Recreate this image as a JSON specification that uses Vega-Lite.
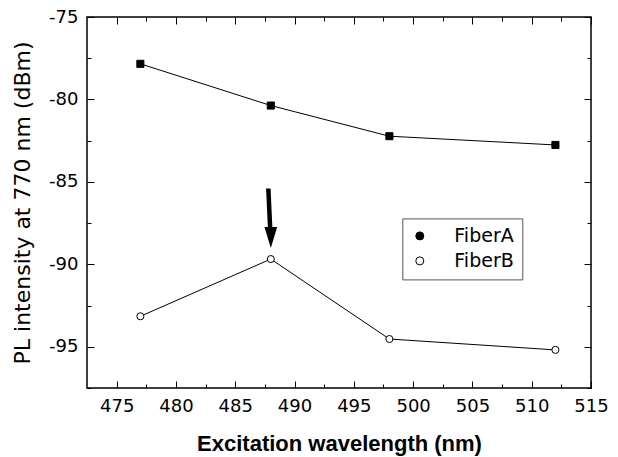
{
  "$schema": "https://vega.github.io/schema/vega-lite/v6.json",
  "width": 504,
  "height": 371,
  "autosize": "none",
  "padding": {"left": 87, "top": 17, "right": 27, "bottom": 69},
  "background": "white",
  "config": {
    "view": {"stroke": "black", "strokeWidth": 1.5},
    "axis": {"grid": false, "domain": false, "tickColor": "black", "tickWidth": 1, "labelColor": "black", "titleColor": "black", "labelFlush": false, "labelOverlap": false}
  },
  "datasets": {
    "pl": [
      {"series": "FiberA", "wavelength": 477, "pl": -77.84},
      {"series": "FiberA", "wavelength": 488, "pl": -80.37},
      {"series": "FiberA", "wavelength": 498, "pl": -82.23},
      {"series": "FiberA", "wavelength": 512, "pl": -82.76},
      {"series": "FiberB", "wavelength": 477, "pl": -93.15},
      {"series": "FiberB", "wavelength": 488, "pl": -89.68},
      {"series": "FiberB", "wavelength": 498, "pl": -94.53},
      {"series": "FiberB", "wavelength": 512, "pl": -95.19}
    ],
    "arrow": [
      {"wavelength": 487.79, "pl": -85.4, "wavelength2": 487.95, "pl2": -87.9}
    ],
    "arrowhead": [
      {"wavelength": 488, "pl": -88.37}
    ]
  },
  "resolve": {"axis": {"x": "independent", "y": "independent"}},
  "layer": [
    {
      "data": {"name": "pl"},
      "mark": {"type": "line", "color": "black", "strokeWidth": 1},
      "encoding": {
        "x": {
          "field": "wavelength", "type": "quantitative",
          "scale": {"domain": [472.5, 515], "nice": false, "zero": false},
          "axis": {
            "orient": "bottom", "values": [475, 480, 485, 490, 495, 500, 505, 510, 515],
            "tickSize": -7, "labelFont": "DejaVu Sans", "labelFontSize": 18, "labelPadding": 16,
            "title": "Excitation wavelength (nm)", "titleFont": "Liberation Sans", "titleFontWeight": "bold",
            "titleFontSize": 22, "titlePadding": 18
          }
        },
        "y": {
          "field": "pl", "type": "quantitative",
          "scale": {"domain": [-97.5, -75], "nice": false, "zero": false},
          "axis": {
            "orient": "left", "values": [-95, -90, -85, -80, -75],
            "tickSize": -7, "labelFont": "DejaVu Sans", "labelFontSize": 18, "labelPadding": 16,
            "labelExpr": "replace(datum.label, '−', '-')",
            "title": "PL intensity at 770 nm (dBm)", "titleFont": "DejaVu Sans", "titleFontWeight": "normal",
            "titleFontSize": 22, "titlePadding": 14
          }
        },
        "detail": {"field": "series"}
      }
    },
    {
      "data": {"name": "pl"},
      "mark": {"type": "point", "filled": true, "stroke": "black", "strokeWidth": 1, "opacity": 1, "size": 50},
      "encoding": {
        "x": {
          "field": "wavelength", "type": "quantitative",
          "scale": {"domain": [472.5, 515], "nice": false, "zero": false},
          "axis": {"orient": "bottom", "values": [477.5, 482.5, 487.5, 492.5, 497.5, 502.5, 507.5, 512.5], "tickSize": -4, "labels": false, "title": null}
        },
        "y": {
          "field": "pl", "type": "quantitative",
          "scale": {"domain": [-97.5, -75], "nice": false, "zero": false},
          "axis": {"orient": "left", "values": [-97.5, -92.5, -87.5, -82.5, -77.5], "tickSize": -4, "labels": false, "title": null}
        },
        "shape": {
          "condition": {"test": "datum.series === 'FiberA'", "value": "square"},
          "value": "circle"
        },
        "fill": {
          "field": "series", "type": "nominal",
          "scale": {"domain": ["FiberA", "FiberB"], "range": ["black", "white"]},
          "legend": {
            "title": null, "orient": "none", "legendX": 315.3, "legendY": 201.4,
            "strokeColor": "#555", "padding": 8, "rowPadding": 5,
            "labelFont": "DejaVu Sans", "labelFontSize": 19, "labelColor": "black",
            "labelOffset": 25, "symbolSize": 64, "symbolStrokeWidth": 1, "symbolStrokeColor": "black",
            "encode": {
              "symbols": {
                "shape": {"value": {"expr": "datum.value === 'FiberA' ? 'M-4.25,0H-0.575M1.175,-1H3.175V1H1.175ZM4.425,0H7.175' : 'M-4.25,0H0.575M2.675,0A1.05,1.05 0 1,1 0.575,0A1.05,1.05 0 1,1 2.675,0ZM2.675,0H6.25'"}},
                "size": {"value": 64},
                "stroke": {"value": "black"},
                "strokeWidth": {"value": 1}
              }
            }
          }
        }
      }
    },
    {
      "data": {"name": "arrow"},
      "mark": {"type": "rule", "color": "black", "strokeWidth": 4.5, "strokeCap": "butt"},
      "encoding": {
        "x": {
          "field": "wavelength", "type": "quantitative",
          "scale": {"domain": [472.5, 515], "nice": false, "zero": false},
          "axis": {"orient": "top", "values": [475, 480, 485, 490, 495, 500, 505, 510, 515], "tickSize": -7, "labels": false, "title": null}
        },
        "y": {
          "field": "pl", "type": "quantitative",
          "scale": {"domain": [-97.5, -75], "nice": false, "zero": false},
          "axis": {"orient": "right", "values": [-95, -90, -85, -80, -75], "tickSize": -7, "labels": false, "title": null}
        },
        "x2": {"field": "wavelength2"},
        "y2": {"field": "pl2"}
      }
    },
    {
      "data": {"name": "arrowhead"},
      "mark": {"type": "point", "filled": true, "color": "black", "opacity": 1, "size": 161, "shape": "M-1,-1.65L1,-1.65L0,1.65Z"},
      "encoding": {
        "x": {
          "field": "wavelength", "type": "quantitative",
          "scale": {"domain": [472.5, 515], "nice": false, "zero": false},
          "axis": {"orient": "top", "values": [477.5, 482.5, 487.5, 492.5, 497.5, 502.5, 507.5, 512.5], "tickSize": -4, "labels": false, "title": null}
        },
        "y": {
          "field": "pl", "type": "quantitative",
          "scale": {"domain": [-97.5, -75], "nice": false, "zero": false},
          "axis": {"orient": "right", "values": [-97.5, -92.5, -87.5, -82.5, -77.5], "tickSize": -4, "labels": false, "title": null}
        }
      }
    }
  ]
}
